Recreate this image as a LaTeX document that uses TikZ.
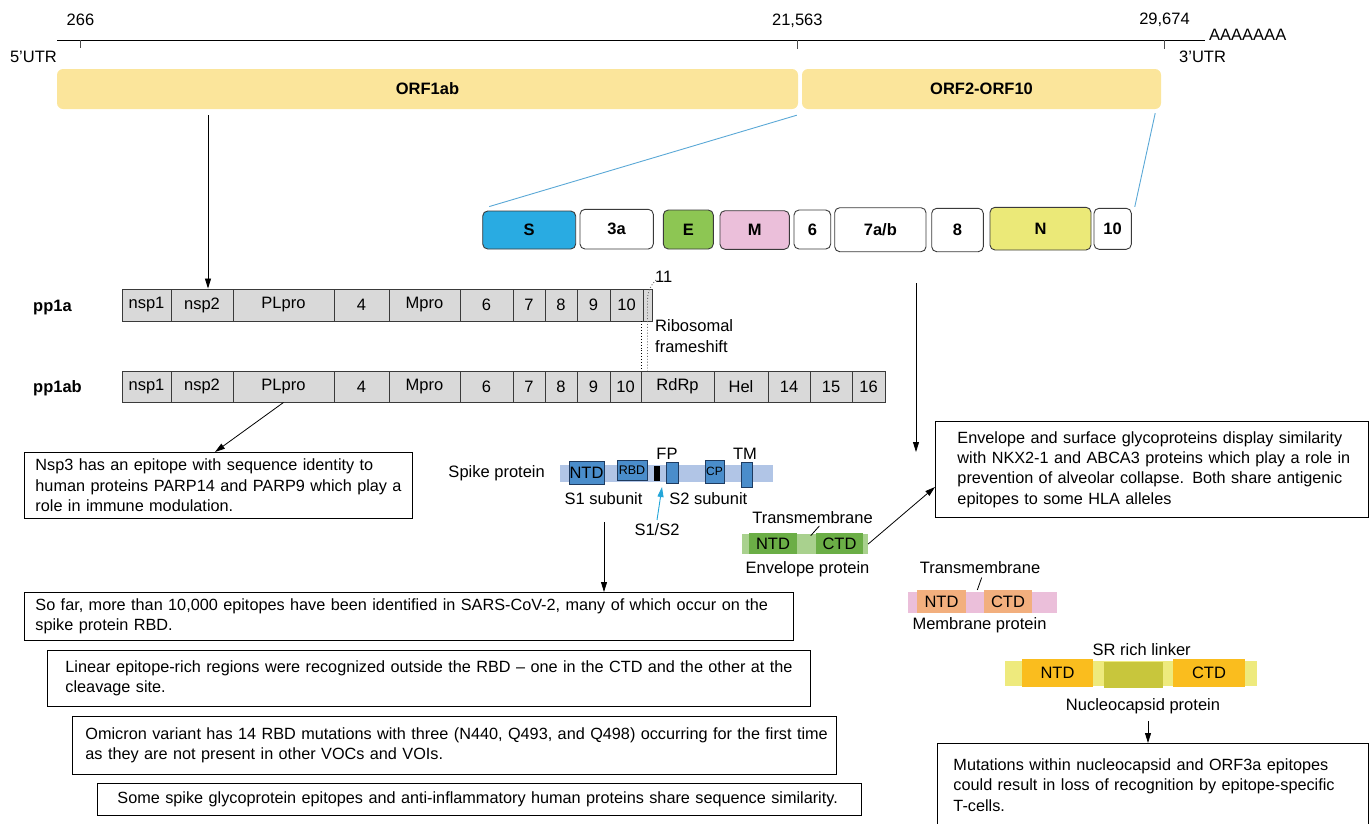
\documentclass[tikz,border=0pt]{standalone}
\usepackage{fontspec}
\setmainfont{Liberation Sans}
\usetikzlibrary{arrows.meta,calc}
\definecolor{orfc}{HTML}{FBE59B}
\definecolor{scol}{HTML}{29ABE2}
\definecolor{ecol}{HTML}{8DC653}
\definecolor{mcol}{HTML}{EBBFDA}
\definecolor{ncol}{HTML}{EBE978}
\definecolor{cellc}{HTML}{D9D9D9}
\definecolor{celld}{HTML}{3A3A3A}
\definecolor{linkc}{HTML}{5AA8D6}
\definecolor{spbar}{HTML}{B1C5E6}
\definecolor{spdom}{HTML}{4A8DCB}
\definecolor{spdraw}{HTML}{1E3B60}
\definecolor{sonec}{HTML}{23A6D9}
\definecolor{envbar}{HTML}{A9D18E}
\definecolor{envdom}{HTML}{6BAE46}
\definecolor{memdom}{HTML}{F2AF7E}
\definecolor{nucbar}{HTML}{EEEA7D}
\definecolor{nucdom}{HTML}{FABD1E}
\definecolor{nuclink}{HTML}{C8C63C}
\newcommand\mybox[7]{\node[#1, minimum width={#5-#3}, minimum height={#6-#4}] (#2) at ({(#3+#5)/2},{(#4+#6)/2}) {#7};}
\newcommand\tl[1]{\mbox{#1}}
\begin{document}
\begin{tikzpicture}[x=1pt,y=-1pt,
  every node/.style={font=\fontsize{16.5}{20.4}\selectfont, inner sep=0pt},
  lbl/.style={anchor=base},
  orfbox/.style={fill=orfc, rounded corners=6pt, font=\fontsize{16.5}{20.4}\selectfont\bfseries},
  gene/.style={draw=celld, line width=0.9pt, rounded corners=5pt, font=\fontsize{16.5}{20.4}\selectfont\bfseries},
  cell/.style={draw=celld, fill=cellc, line width=0.9pt},
  spd/.style={draw=spdraw, fill=spdom, line width=0.9pt},
  arr/.style={-{Triangle[length=10pt,width=6pt]}, line width=0.8pt},
  tbox/.style={draw, line width=0.9pt, anchor=north west, align=left, font=\fontsize{16.25}{20.4}\selectfont},
  link/.style={draw=linkc, line width=0.9pt}
]
\useasboundingbox (0,0) rectangle (1372,823);

% genome line
\coordinate (gl) at (57,40);
\coordinate (gr) at (1205,40);
\draw[line width=1pt] (gl) -- (gr);
\draw[line width=0.9pt, black!70] (80,40) -- (80,48);
\draw[line width=0.9pt, black!70] (797.5,40) -- (797.5,49);
\draw[line width=0.9pt, black!70] (1164,40) -- (1164,49);
\node[lbl] (t266) at (80.5,25) {266};
\node[lbl] (t21) at (797.3,25) {21,563};
\node[lbl] (t29) at (1164.5,24.5) {29,674};
\node[anchor=base west] (polyA) at (1209,40) {AAAAAAA};
\node[anchor=base east] (utr5) at (57,62) {5'UTR};
\node[anchor=base west] (utr3) at (1179,62) {3'UTR};

% ORF boxes
\mybox{orfbox}{orf1}{57}{69}{798}{109}{ORF1ab}
\mybox{orfbox}{orf2}{802}{69}{1161}{109}{ORF2-ORF10}

% gene boxes
\mybox{gene,fill=scol}{gS}{482.7}{211}{575.7}{249}{S}
\mybox{gene,fill=white}{g3a}{580}{209.3}{653.3}{249}{3a}
\mybox{gene,fill=ecol}{gE}{663.3}{210}{713.3}{249}{E}
\mybox{gene,fill=mcol}{gM}{720}{210.7}{789.3}{249.3}{M}
\mybox{gene,fill=white}{g6}{794}{210}{830.7}{249}{6}
\mybox{gene,fill=white}{g7}{834.7}{207.7}{926}{251.7}{7a/b}
\mybox{gene,fill=white}{g8}{931.7}{208.3}{983.3}{251.7}{8}
\mybox{gene,fill=ncol}{gN}{990}{207.3}{1091}{250}{N}
\mybox{gene,fill=white}{g10}{1094}{208.3}{1131.3}{249.3}{10}

\draw[link] ($(orf2.south west)+(-5,6)$) -- ($(gS.north west)+(7,-4)$);
\draw[link] ($(orf2.south east)+(-6,4)$) -- ($(g10.north east)+(3,-1)$);

% polyproteins
\node[anchor=base west, font=\fontsize{16.5}{20.4}\selectfont\bfseries] (pp1a) at (33,311) {pp1a};
\node[anchor=base west, font=\fontsize{16.5}{20.4}\selectfont\bfseries] (pp1ab) at (33,392) {pp1ab};
\foreach \l/\r/\t/\n in {122/171/nsp1/a1, 171/233/nsp2/a2, 233/334/PLpro/a3, 334/389/4/a4, 389/460/Mpro/a5, 460/513/6/a6, 513/545/7/a7, 545/577/8/a8, 577/610/9/a9, 610/643/10/a10, 643/652/{}/a11}
  {\mybox{cell}{\n}{\l}{289}{\r}{321}{\t}}
\foreach \l/\r/\t/\n in {122/171/nsp1/b1, 171/233/nsp2/b2, 233/334/PLpro/b3, 334/389/4/b4, 389/460/Mpro/b5, 460/513/6/b6, 513/545/7/b7, 545/577/8/b8, 577/610/9/b9, 610/641/10/b10, 641/714/RdRp/b12, 714/768/Hel/b13, 768/810/14/b14, 810/852/15/b15, 852/885/16/b16}
  {\mybox{cell}{\n}{\l}{371}{\r}{402}{\t}}

\node[anchor=base west] (lab11) at (655,282) {11};
\node[anchor=base west] (ribo) at (655,331.5) {Ribosomal};
\node[anchor=base west] (fshift) at (655,352) {frameshift};
\draw[dotted, line width=0.9pt] (a10.south east -| b10.north east) -- (b10.north east);
\draw[dotted, line width=0.9pt, black!60] (656,280) .. controls (650,286) and (647.5,292) .. (647.5,300) -- (a11.center |- b12.north);

% ORF1ab arrow
\coordinate (o1) at (208,115);
\draw[arr] (o1) -- (o1 |- a2.north);

% Nsp3 box
\node[tbox, text width=366pt, inner xsep=11pt, minimum height=66pt] (nsp3) at (24,452)
  {\tl{Nsp3 has an epitope with sequence identity to}\\\tl{human proteins PARP14 and PARP9 which play a}\\\tl{role in immune modulation.}};
\draw[arr] (b3.south) -- ($(nsp3.north west)+(191,0)$);

% spike protein
\node[anchor=base east] (spklab) at (545,477) {Spike protein};
\mybox{fill=spbar}{spbar}{560}{465}{773}{482}{}
\mybox{spd}{sNTD}{569}{461}{604}{484}{NTD}
\mybox{spd,font=\fontsize{12.5}{14}\selectfont}{sRBD}{617}{460}{647}{480}{RBD}
\mybox{fill=black}{sblk}{654}{466}{660}{481}{}
\mybox{spd}{sFP}{666}{462}{678}{483}{}
\mybox{spd,font=\fontsize{12}{14}\selectfont}{sCP}{705}{460}{724}{483}{CP}
\mybox{spd}{sTM}{741}{462}{752}{487}{}
\node[lbl] (fplab) at (667,459) {FP};
\node[lbl] (tmlab) at (745,459) {TM};
\node[lbl] (s1lab) at (603.5,504.3) {S1 subunit};
\node[lbl] (s2lab) at (708.3,504.3) {S2 subunit};
\node[lbl] (s12lab) at (657,535) {S1/S2};
\coordinate (cut) at (662,487);
\draw[arr, draw=sonec, line width=0.9pt] (657,520) -- (cut);

% spike text boxes
\node[tbox, text width=747pt, inner xsep=11pt, minimum height=48pt] (sofar) at (24,592)
  {\tl{So far, more than 10,000 epitopes have been identified in SARS-CoV-2, many of which occur on the}\\\tl{spike protein RBD.}};
\node[tbox, text width=727pt, inner xsep=18pt, minimum height=56pt] (linear) at (47,650)
  {\tl{Linear epitope-rich regions were recognized outside the RBD -- one in the CTD and the other at the}\\\tl{cleavage site.}};
\node[tbox, text width=738pt, inner xsep=13pt, minimum height=58pt] (omicron) at (72,716)
  {\tl{Omicron variant has 14 RBD mutations with three (N440, Q493, and Q498) occurring for the first time}\\\tl{as they are not present in other VOCs and VOIs.}};
\node[tbox, text width=724pt, inner xsep=20pt, minimum height=32pt] (some) at (97,783)
  {\tl{Some spike glycoprotein epitopes and anti-inflammatory human proteins share sequence similarity.}};
\coordinate (sp) at (604,522);
\draw[arr] (sp) -- (sp |- sofar.north);

% envelope text box
\node[tbox, text width=389pt, inner xsep=22pt, minimum height=96pt] (envbox) at (935,421)
  {\tl{Envelope and surface glycoproteins display similarity}\\\tl{with NKX2-1 and ABCA3 proteins which play a role in}\\\tl{prevention of alveolar collapse. Both share antigenic}\\\tl{epitopes to some HLA alleles}};
\coordinate (g1) at (916,283);
\coordinate (g2) at (916,452);
\draw[arr] (g1) -- (g2);

% envelope protein
\node[lbl] (envtm) at (812.5,523) {Transmembrane};
\mybox{fill=envbar}{envbar}{742}{534}{868}{554}{}
\mybox{fill=envdom}{eNTD}{749}{533}{797}{554}{NTD}
\mybox{fill=envdom}{eCTD}{816}{533}{863}{554}{CTD}
\draw[line width=0.8pt] (810.7,535.7) -- (819.3,526);
\node[lbl] (envlab) at (807.5,573.3) {Envelope protein};
\draw[arr] (envbar.east) -- ($(envbox.north west)+(0,66)$);

% membrane protein
\node[lbl] (memtm) at (980,573.3) {Transmembrane};
\mybox{fill=mcol}{membar}{908}{592}{1057}{613}{}
\mybox{fill=memdom}{mNTD}{917}{590}{966}{613}{NTD}
\mybox{fill=memdom}{mCTD}{984}{590}{1032}{613}{CTD}
\draw[line width=0.8pt] (977.3,590) -- (981.7,577.5);
\node[lbl] (memlab) at (979.5,629.3) {Membrane protein};

% nucleocapsid protein
\node[lbl] (srlab) at (1141.7,655) {SR rich linker};
\mybox{fill=nucbar}{nucbar}{1005}{661}{1257}{686}{}
\mybox{fill=nucdom}{nNTD}{1022}{659}{1093}{687}{NTD}
\mybox{fill=nuclink}{nlink}{1104}{662}{1163}{688}{}
\mybox{fill=nucdom}{nCTD}{1173}{659}{1245}{687}{CTD}
\node[lbl] (nuclab) at (1143,710) {Nucleocapsid protein};

\node[tbox, text width=399pt, inner xsep=16pt, inner ysep=15pt] (mut) at (937,743)
  {\tl{Mutations within nucleocapsid and ORF3a epitopes}\\\tl{could result in loss of recognition by epitope-specific}\\\tl{T-cells.}\\\mbox{}\\\mbox{}};
\coordinate (nu) at (1148,721);
\draw[arr] (nu) -- (nu |- mut.north);
\end{tikzpicture}
\end{document}
